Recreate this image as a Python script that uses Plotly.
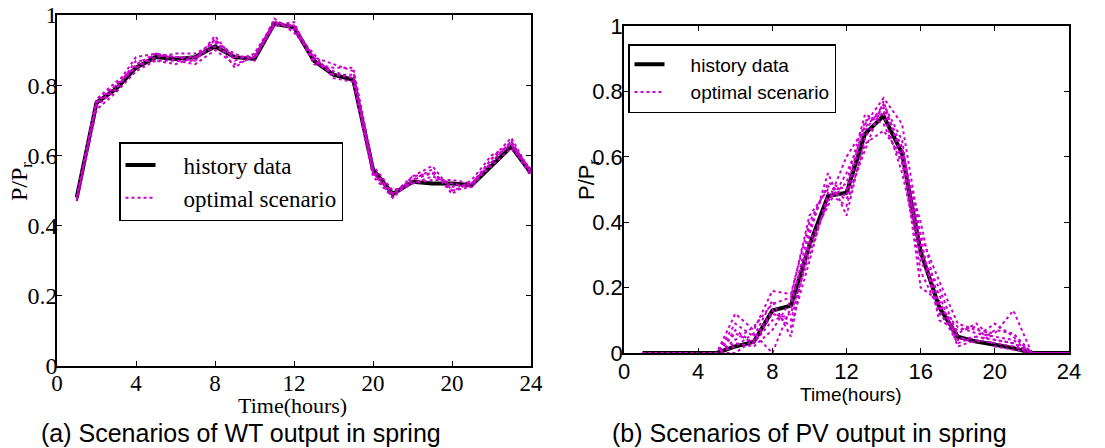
import plotly.graph_objects as go

hours = list(range(1, 25))

wt_history = [0.48, 0.75, 0.79, 0.85, 0.88, 0.875, 0.88, 0.91, 0.88, 0.875, 0.975, 0.965,
              0.87, 0.83, 0.815, 0.56, 0.49, 0.525, 0.52, 0.52, 0.515, 0.57, 0.625, 0.55]

wt_s1 = [0.47, 0.74, 0.79, 0.86, 0.89, 0.88, 0.88, 0.93, 0.88, 0.88, 0.98, 0.97, 0.88, 0.86, 0.84, 0.56, 0.49, 0.53, 0.55, 0.51, 0.52, 0.58, 0.64, 0.55]
wt_s2 = [0.48, 0.76, 0.80, 0.88, 0.89, 0.88, 0.87, 0.94, 0.87, 0.89, 0.98, 0.96, 0.87, 0.83, 0.82, 0.55, 0.48, 0.54, 0.57, 0.50, 0.51, 0.59, 0.65, 0.55]
wt_s3 = [0.47, 0.73, 0.78, 0.84, 0.87, 0.87, 0.86, 0.90, 0.86, 0.88, 0.97, 0.98, 0.86, 0.85, 0.85, 0.57, 0.50, 0.52, 0.53, 0.53, 0.52, 0.57, 0.62, 0.56]
wt_s4 = [0.48, 0.75, 0.80, 0.85, 0.88, 0.89, 0.89, 0.92, 0.89, 0.87, 0.99, 0.95, 0.89, 0.82, 0.81, 0.54, 0.48, 0.53, 0.56, 0.49, 0.53, 0.60, 0.63, 0.54]
wt_s5 = [0.47, 0.75, 0.79, 0.87, 0.87, 0.86, 0.88, 0.91, 0.88, 0.88, 0.97, 0.97, 0.87, 0.84, 0.82, 0.56, 0.49, 0.52, 0.54, 0.52, 0.51, 0.58, 0.64, 0.55]
wt_s6 = [0.48, 0.76, 0.81, 0.85, 0.89, 0.87, 0.87, 0.93, 0.85, 0.89, 0.98, 0.96, 0.88, 0.83, 0.83, 0.55, 0.49, 0.54, 0.55, 0.50, 0.52, 0.59, 0.63, 0.56]
wt_scenarios = [wt_s1, wt_s2, wt_s3, wt_s4, wt_s5, wt_s6]

pv_history = [0, 0, 0, 0, 0, 0.02, 0.034, 0.13, 0.145, 0.33, 0.48, 0.49,
              0.67, 0.725, 0.61, 0.31, 0.14, 0.05, 0.035, 0.025, 0.015, 0, 0, 0]

pv_s1 = [0, 0, 0, 0, 0, 0.12, 0.07, 0.19, 0.18, 0.40, 0.51, 0.48, 0.70, 0.78, 0.70, 0.36, 0.22, 0.09, 0.07, 0.06, 0.13, 0, 0, 0]
pv_s2 = [0, 0, 0, 0, 0, 0.09, 0.05, 0.16, 0.05, 0.36, 0.55, 0.42, 0.66, 0.74, 0.62, 0.20, 0.16, 0.04, 0.05, 0.09, 0.05, 0, 0, 0]
pv_s3 = [0, 0, 0, 0, 0, 0.06, 0.03, 0.10, 0.12, 0.30, 0.47, 0.52, 0.73, 0.70, 0.58, 0.33, 0.12, 0.06, 0.09, 0.04, 0.03, 0, 0, 0]
pv_s4 = [0, 0, 0, 0, 0, 0.03, 0.02, 0.07, 0.16, 0.34, 0.45, 0.55, 0.68, 0.76, 0.65, 0.28, 0.18, 0.02, 0.04, 0.03, 0.02, 0, 0, 0]
pv_s5 = [0, 0, 0, 0, 0, 0.00, 0.04, 0.13, 0.08, 0.28, 0.49, 0.45, 0.64, 0.68, 0.60, 0.40, 0.14, 0.08, 0.06, 0.05, 0.04, 0, 0, 0]
pv_s6 = [0, 0, 0, 0, 0, 0.02, 0.06, 0.00, 0.14, 0.38, 0.52, 0.50, 0.71, 0.73, 0.55, 0.30, 0.20, 0.05, 0.03, 0.07, 0.06, 0, 0, 0]
pv_s7 = [0, 0, 0, 0, 0, 0.07, 0.03, 0.12, 0.10, 0.32, 0.46, 0.60, 0.69, 0.75, 0.63, 0.35, 0.10, 0.07, 0.08, 0.02, 0.01, 0, 0, 0]
pv_s8 = [0, 0, 0, 0, 0, 0.04, 0.08, 0.15, 0.17, 0.42, 0.50, 0.47, 0.62, 0.77, 0.59, 0.25, 0.13, 0.03, 0.05, 0.04, 0.03, 0, 0, 0]
pv_scenarios = [pv_s1, pv_s2, pv_s3, pv_s4, pv_s5, pv_s6, pv_s7, pv_s8]

x_ticks = [0, 4, 8, 12, 16, 20, 24]
wt_x_ticktext = ["0", "4", "8", "12", "20", "20", "24"]
pv_x_ticktext = ["0", "4", "8", "12", "16", "20", "24"]
y_ticks = [0, 0.2, 0.4, 0.6, 0.8, 1]
y_ticktext = ["0", "0.2", "0.4", "0.6", "0.8", "1"]

MAG = "#CC00CC"
SERIF = "Liberation Serif, Times New Roman, serif"
SANS = "Liberation Sans, Arial, sans-serif"
LEAD = "\u00a0" * 4

fig = go.Figure()

# Left panel (WT)
fig.add_trace(go.Scatter(x=hours, y=wt_history, mode="lines", name=LEAD + "history data",
                         line=dict(color="black", width=4), xaxis="x", yaxis="y",
                         legend="legend"))
for i, s in enumerate(wt_scenarios):
    fig.add_trace(go.Scatter(x=hours, y=s, mode="lines", name=LEAD + "optimal scenario",
                             line=dict(color=MAG, width=2, dash="dot"), xaxis="x", yaxis="y",
                             legend="legend", showlegend=(i == 0)))

# Right panel (PV)
fig.add_trace(go.Scatter(x=hours, y=pv_history, mode="lines", name=LEAD + "history data",
                         line=dict(color="black", width=4), xaxis="x2", yaxis="y2",
                         legend="legend2"))
for i, s in enumerate(pv_scenarios):
    fig.add_trace(go.Scatter(x=hours, y=s, mode="lines", name=LEAD + "optimal scenario",
                             line=dict(color=MAG, width=2, dash="dot"), xaxis="x2", yaxis="y2",
                             legend="legend2", showlegend=(i == 0)))

W, H = 1105, 448

def ax_common():
    return dict(showgrid=False, zeroline=False, showline=True, linecolor="black", linewidth=1.5,
                mirror="ticks", ticks="inside", ticklen=5, tickcolor="black", tickwidth=1,
                automargin=False, fixedrange=True)

fig.update_layout(
    width=W, height=H, margin=dict(l=0, r=0, t=0, b=0, autoexpand=False),
    paper_bgcolor="white", plot_bgcolor="white",
    xaxis=dict(**ax_common(), domain=[57 / W, 531 / W], range=[0, 24], tickvals=x_ticks,
               ticktext=wt_x_ticktext, tickfont=dict(family=SERIF, size=23, color="black"),
               anchor="y", ticklabelstandoff=-4),
    yaxis=dict(**ax_common(), domain=[1 - 366 / H, 1 - 15 / H], range=[0, 1], tickvals=y_ticks,
               ticktext=y_ticktext, tickfont=dict(family=SERIF, size=24, color="black"),
               anchor="x", ticklabelstandoff=-7),
    xaxis2=dict(**ax_common(), domain=[624 / W, 1069 / W], range=[0, 24], tickvals=x_ticks,
                ticktext=pv_x_ticktext, tickfont=dict(family=SANS, size=22, color="black"),
                anchor="y2", ticklabelstandoff=-2),
    yaxis2=dict(**ax_common(), domain=[1 - 353 / H, 1 - 26 / H], range=[0, 1], tickvals=y_ticks,
                ticktext=y_ticktext, tickfont=dict(family=SANS, size=22, color="black"),
                anchor="x2", ticklabelstandoff=-5),
    legend=dict(x=119 / W, y=1 - 142 / H, xanchor="left", yanchor="top",
                bgcolor="white", bordercolor="black", borderwidth=1.5,
                font=dict(family=SERIF, size=23, color="black"), tracegroupgap=0),
    legend2=dict(x=628 / W, y=1 - 44 / H, xanchor="left", yanchor="top",
                 bgcolor="white", bordercolor="black", borderwidth=1.5,
                 font=dict(family=SANS, size=19, color="black"), tracegroupgap=0),
    showlegend=True,
)

def ann(text, x, y, family, size, angle=0):
    return dict(text=text, x=x / W, y=1 - y / H, xref="paper", yref="paper",
                xanchor="center", yanchor="middle", showarrow=False, textangle=angle,
                font=dict(family=family, size=size, color="black"))

annotations = [
    ann("Time(hours)", 292, 405, SERIF, 22),
    ann("P/P<sub>r</sub>", 21, 182, SERIF, 24, -90),
    ann("Time(hours)", 851, 394, SANS, 19),
    ann("P/P<sub>r</sub>", 588, 180, SANS, 22, -90),
    ann("(a) Scenarios of WT output in spring", 241, 433, SANS, 25),
    ann("(b) Scenarios of PV output in spring", 809, 433, SANS, 25),
]
fig.update_layout(annotations=annotations)

fig.write_html("out.html")
